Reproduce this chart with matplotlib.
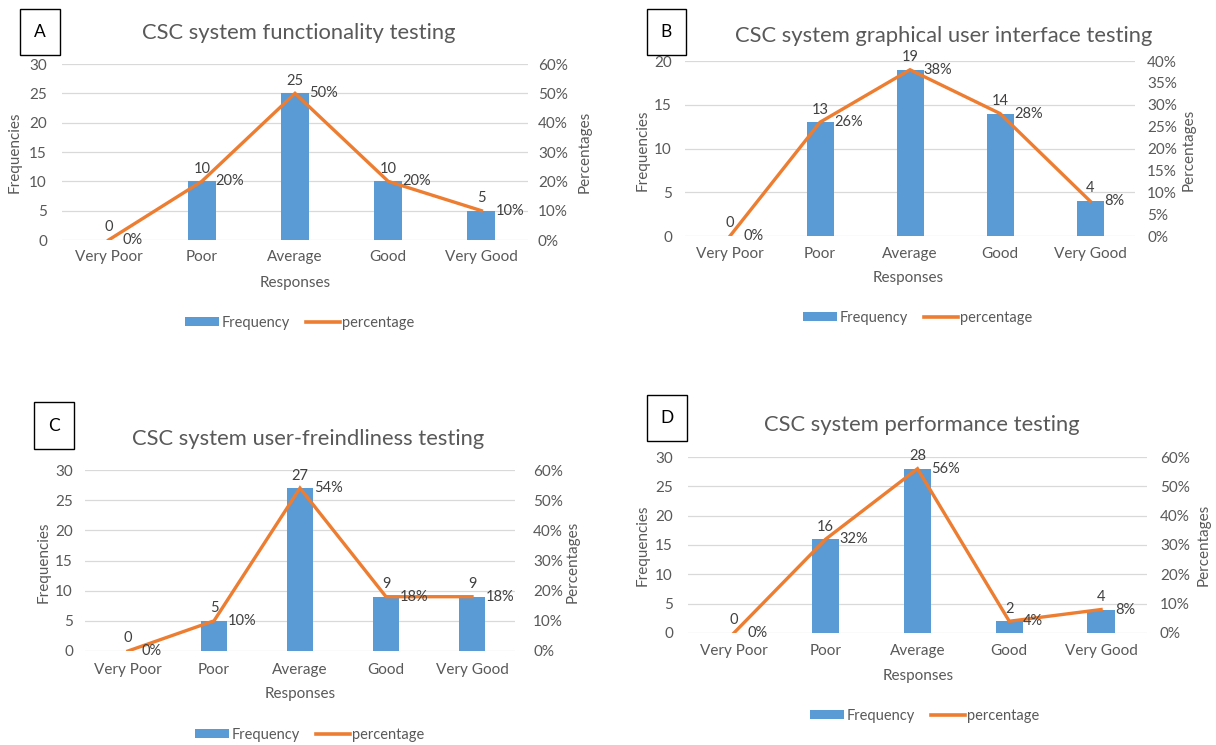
import matplotlib
matplotlib.use("Agg")
import matplotlib.pyplot as plt
from matplotlib.patches import Rectangle, Patch
from matplotlib.lines import Line2D
from matplotlib.ticker import FuncFormatter, MultipleLocator

plt.rcParams['font.family'] = ['Lato', 'DejaVu Sans']

W, H = 1216, 745
DPI = 100

categories = ["Very Poor", "Poor", "Average", "Good", "Very Good"]

freq_a = [0, 10, 25, 10, 5]
pct_a = [0, 20, 50, 20, 10]
freq_b = [0, 13, 19, 14, 4]
pct_b = [0, 26, 38, 28, 8]
freq_c = [0, 5, 27, 9, 9]
pct_c = [0, 10, 54, 18, 18]
freq_d = [0, 16, 28, 2, 4]
pct_d = [0, 32, 56, 4, 8]

titles = [
    "CSC system functionality testing",
    "CSC system graphical user interface testing",
    "CSC system user-freindliness testing",
    "CSC system performance testing",
]
letters = ["A", "B", "C", "D"]

BAR = "#5B9BD5"
LINE = "#ED7D31"
GRID = "#D9D9D9"
TXT = "#595959"
LBL = "#404040"

fig = plt.figure(figsize=(W / DPI, H / DPI), dpi=DPI)


def fx(x):
    return x / W


def fy(y):
    return 1 - y / H


def px2pt(p):
    return p * 72 / DPI


def panel(freq, pct, title, letter, ax_box, letter_box, title_xy,
          ymax, pmax, pstep, left_lbl_r, right_lbl_l, xtick_pad,
          resp_xy, ylab_x, plab_x, ylab_y, legend_xy):
    x0, x1, y0, y1 = ax_box
    ax = fig.add_axes([fx(x0), fy(y1), (x1 - x0) / W, (y1 - y0) / H])
    xs = range(len(categories))
    ax.bar(xs, freq, width=0.3, color=BAR, zorder=2)
    ax.set_xlim(-0.5, len(categories) - 0.5)
    ax.set_ylim(0, ymax)
    ax.yaxis.set_major_locator(MultipleLocator(5))
    ax.grid(axis='y', color=GRID, linewidth=0.9, zorder=0)
    ax.set_axisbelow(True)
    for s in ax.spines.values():
        s.set_visible(False)
    ax.set_xticks(list(xs))
    ax.set_xticklabels(categories)
    ax.tick_params(axis='x', length=0, pad=px2pt(xtick_pad), labelsize=11, labelcolor=TXT)
    ax.tick_params(axis='y', length=0, pad=px2pt(x0 - left_lbl_r), labelsize=11, labelcolor=TXT)

    ax2 = ax.twinx()
    ax2.set_ylim(0, pmax)
    ax2.yaxis.set_major_locator(MultipleLocator(pstep))
    ax2.yaxis.set_major_formatter(FuncFormatter(lambda v, _: f"{v:.0f}%"))
    for s in ax2.spines.values():
        s.set_visible(False)
    ax2.tick_params(axis='y', length=0, pad=px2pt(right_lbl_l - x1), labelsize=11, labelcolor=TXT)
    ax2.plot(list(xs), pct, color=LINE, linewidth=2.4, solid_joinstyle='miter', zorder=3)

    for i, (f, p) in enumerate(zip(freq, pct)):
        ax.annotate(f"{f}", (i, f), xytext=(0, 4), textcoords='offset points',
                    ha='center', va='bottom', fontsize=10.5, color=LBL)
        ax2.annotate(f"{p}%", (i, p), xytext=(10, 0), textcoords='offset points',
                     ha='left', va='center', fontsize=10.5, color=LBL)

    # boxed panel letter
    bx0, bx1, by0, by1 = letter_box
    fig.patches.append(Rectangle((fx(bx0), fy(by1)), (bx1 - bx0) / W, (by1 - by0) / H,
                                 transform=fig.transFigure, fill=False,
                                 edgecolor='black', linewidth=1.0))
    fig.text(fx((bx0 + bx1) / 2), fy((by0 + by1) / 2), letter, ha='center', va='center',
             fontsize=12.5, color='black')

    fig.text(fx(title_xy[0]), fy(title_xy[1]), title, ha='center', va='center',
             fontsize=15.8, color=TXT)
    fig.text(fx(resp_xy[0]), fy(resp_xy[1]), "Responses", ha='center', va='center',
             fontsize=11, color=TXT)
    fig.text(fx(ylab_x), fy(ylab_y), "Frequencies", ha='center', va='center',
             rotation=90, fontsize=11, color=TXT)
    fig.text(fx(plab_x), fy(ylab_y), "Percentages", ha='center', va='center',
             rotation=90, fontsize=11, color=TXT)

    handles = [Patch(facecolor=BAR, edgecolor='none'),
               Line2D([0], [0], color=LINE, linewidth=2.6)]
    fig.legend(handles, ["Frequency", "percentage"], loc='center',
               bbox_to_anchor=(fx(legend_xy[0]), fy(legend_xy[1])),
               ncol=2, frameon=False, fontsize=10.5, labelcolor=TXT,
               handlelength=2.3, handleheight=0.55, handletextpad=0.2,
               columnspacing=1.1)


panel(freq_a, pct_a, titles[0], letters[0],
      (62, 528, 64, 240), (20, 60, 9, 55), (299, 33),
      30, 60, 10, 47, 538, 10, (295, 283), 15, 585, 152, (300, 323))
panel(freq_b, pct_b, titles[1], letters[1],
      (685, 1135, 61, 236), (647, 686, 9, 55), (944, 36),
      20, 40, 5, 672, 1147, 11, (908, 278), 643, 1189, 150, (918, 318))
panel(freq_c, pct_c, titles[2], letters[2],
      (85, 515, 470, 651), (34, 74, 402, 449), (308, 439),
      30, 60, 10, 73, 533, 12, (300, 694), 44, 573, 562, (310, 735))
panel(freq_d, pct_d, titles[3], letters[3],
      (688, 1147, 457, 633), (647, 687, 395, 441), (922, 425),
      30, 60, 10, 673, 1160, 11, (918, 676), 643, 1204, 545, (925, 716))

fig.savefig("out.png", dpi=DPI, facecolor='white')
